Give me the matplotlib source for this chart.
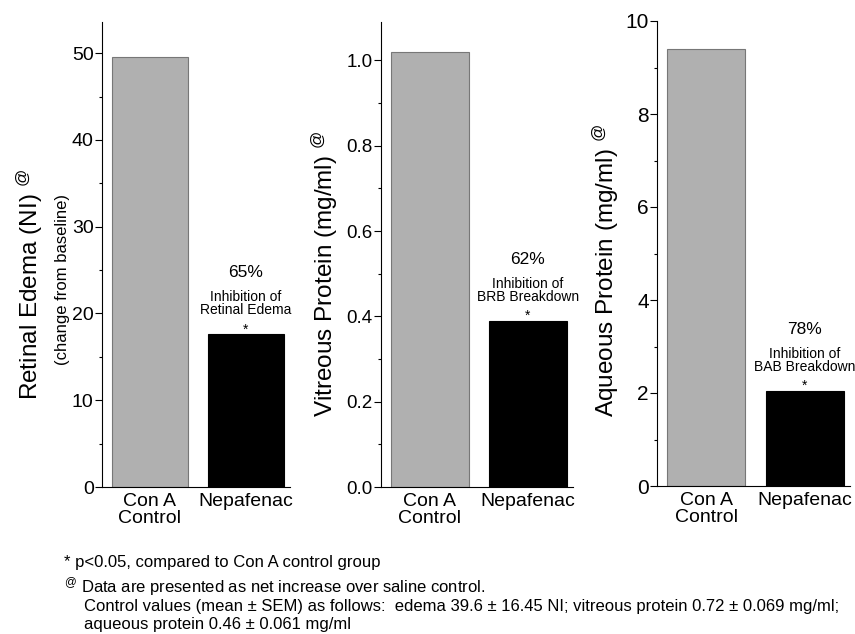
import numpy as np
import matplotlib
matplotlib.use("Agg")
import matplotlib.pyplot as plt
from matplotlib.ticker import MultipleLocator

plt.rcParams["font.family"] = ["Liberation Sans", "DejaVu Sans"]
plt.rcParams["mathtext.default"] = "regular"

# ── data ────────────────────────────────────────────────────────
groups = ["Con A\nControl", "Nepafenac"]
edema = [49.6, 17.6]
vitreous = [1.02, 0.39]
aqueous = [9.4, 2.05]
inhibition_pct = ["65%", "62%", "78%"]
inhibition_what = ["Retinal Edema", "BRB Breakdown", "BAB Breakdown"]
ylabels = ["Retinal Edema (NI) $^{@}$", "Vitreous Protein (mg/ml) $^{@}$",
           "Aqueous Protein (mg/ml) $^{@}$"]

W, H = 855, 634
fig = plt.figure(figsize=(W / 100, H / 100), dpi=100)


def fx(px):
    return px / W


def fy(py):
    return 1 - py / H


# panel boxes in pixels: (left, right, top, bottom)
boxes = [(102, 290, 22, 487), (381, 573, 22, 487), (657, 850, 21, 486)]
ylims = [(0, 53.6), (0, 1.09), (0, 10)]
majors = [10, 0.2, 2]
minors = [5, 0.1, 1]
fmts = ["{:.0f}", "{:.1f}", "{:.0f}"]
tick_sizes = [14, 13.5, 15]
series = [edema, vitreous, aqueous]
label_pos = [(30, 284), (325, 274), (606, 270)]

bar_colors = ["#b0b0b0", "black"]
edge_colors = ["#777777", "black"]

for k in range(3):
    l, r, t, b = boxes[k]
    ax = fig.add_axes([fx(l), fy(b), fx(r - l), (b - t) / H])
    x = np.arange(len(groups))
    ax.bar(x, series[k], width=0.79, color=bar_colors,
           edgecolor=edge_colors, linewidth=0.8)
    ax.set_xlim(-0.5, 1.46)
    ax.set_ylim(*ylims[k])
    ax.yaxis.set_major_locator(MultipleLocator(majors[k]))
    ax.yaxis.set_minor_locator(MultipleLocator(minors[k]))
    ax.yaxis.set_major_formatter(plt.FuncFormatter(
        lambda v, p, f=fmts[k]: f.format(v)))
    ax.set_xticks(x)
    ax.set_xticklabels(groups)
    for lbl in ax.get_xticklabels():
        lbl.set_linespacing(1.0)
    ax.tick_params(axis="x", length=0, pad=4, labelsize=14)
    ax.tick_params(axis="y", which="major", length=5, width=0.8,
                   pad=1, labelsize=tick_sizes[k])
    ax.tick_params(axis="y", which="minor", length=2.5, width=0.8)
    for s in ["top", "right"]:
        ax.spines[s].set_visible(False)
    for s in ["left", "bottom"]:
        ax.spines[s].set_linewidth(0.8)

    # inhibition annotation above the Nepafenac bar
    v = series[k][1]
    ax.annotate(inhibition_pct[k], (1, v), xytext=(0, 57 * 0.72),
                textcoords="offset points", ha="center", va="baseline",
                fontsize=12.5)
    ax.annotate("Inhibition of", (1, v), xytext=(0, 33 * 0.72),
                textcoords="offset points", ha="center", va="baseline",
                fontsize=10)
    ax.annotate(inhibition_what[k], (1, v), xytext=(0, 20 * 0.72),
                textcoords="offset points", ha="center", va="baseline",
                fontsize=10)
    ax.annotate("*", (1, v), xytext=(0, 0.5),
                textcoords="offset points", ha="center", va="baseline",
                fontsize=10)

    px, py = label_pos[k]
    fig.text(fx(px), fy(py), ylabels[k], rotation=90, ha="center",
             va="center", fontsize=17.5)

fig.text(fx(63), fy(280), "(change from baseline)", rotation=90,
         ha="center", va="center", fontsize=12)

# footnotes
fs = 12
fig.text(fx(64), fy(563), "* p<0.05, compared to Con A control group",
         ha="left", va="center", fontsize=fs)
fig.text(fx(64), fy(587),
         "$^{@}$ Data are presented as net increase over saline control.",
         ha="left", va="center", fontsize=fs)
fig.text(fx(84), fy(606),
         "Control values (mean \u00b1 SEM) as follows:  edema 39.6 \u00b1 16.45 NI; "
         "vitreous protein 0.72 \u00b1 0.069 mg/ml;",
         ha="left", va="center", fontsize=fs)
fig.text(fx(84), fy(625), "aqueous protein 0.46 \u00b1 0.061 mg/ml",
         ha="left", va="center", fontsize=fs)

fig.savefig("out.png", dpi=100)
